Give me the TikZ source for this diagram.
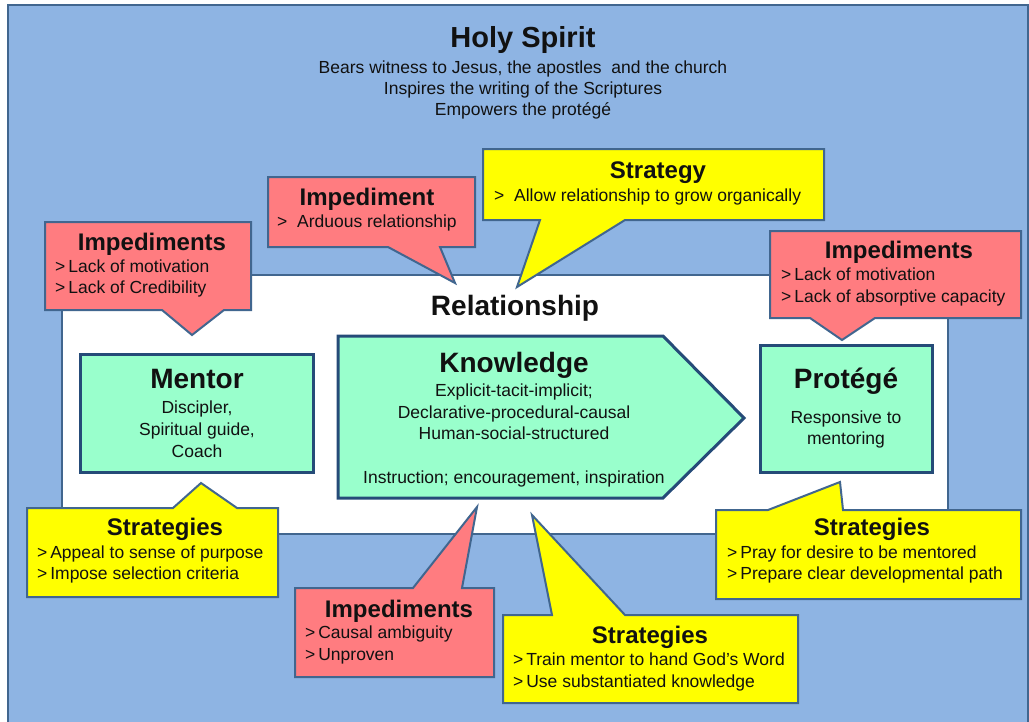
\documentclass[tikz,border=0pt]{standalone}
\usepackage{fontspec}
\setmainfont{Liberation Sans}
\definecolor{bgblue}{HTML}{8EB4E3}
\definecolor{edgec}{HTML}{41668F}
\definecolor{edged}{HTML}{254B78}
\definecolor{pinkc}{HTML}{FF7C80}
\definecolor{yellowc}{HTML}{FFFF00}
\definecolor{mintc}{HTML}{99FFCC}
\definecolor{txtc}{HTML}{111111}
\begin{document}
\begin{tikzpicture}[x=1pt,y=-1pt,
  bgbox/.style={fill=bgblue,draw=edgec,line width=2pt},
  relbox/.style={fill=white,draw=edgec,line width=1.6pt},
  callR/.style={fill=pinkc,draw=edgec,line width=2pt,line join=miter},
  callY/.style={fill=yellowc,draw=edgec,line width=2pt,line join=miter},
  mainbox/.style={fill=mintc,draw=edged,line width=3pt,line join=miter},
  bigttl/.style={font=\bfseries\fontsize{29}{32}\selectfont,anchor=base,inner sep=0pt,text=txtc},
  mttl/.style={font=\bfseries\fontsize{28}{32}\selectfont,anchor=base,inner sep=0pt,text=txtc},
  cttl/.style={font=\bfseries\fontsize{24}{28}\selectfont,anchor=base,inner sep=0pt,text=txtc},
  ltxt/.style={font=\fontsize{17.5}{20}\selectfont,anchor=base west,inner sep=0pt,text=txtc},
  ctxt/.style={font=\fontsize{17.5}{20}\selectfont,anchor=base,inner sep=0pt,text=txtc}]
\useasboundingbox (0,0) rectangle (1029,721);
\fill[white] (0,0) rectangle (1029,721);
% background
\draw[bgbox] (8,5) rectangle (1028,740);
\node[bigttl] (hs) at (523,47) {Holy Spirit};
\node[ctxt] (hs1) at (523,73) {Bears witness to Jesus, the apostles\ \ and the church};
\node[ctxt] (hs2) at (523,94) {Inspires the writing of the Scriptures};
\node[ctxt] (hs3) at (523,115) {Empowers the protégé};
% relationship area
\draw[relbox] (62,275) rectangle (948,534);
\node[mttl] (rel) at (515,315) {Relationship};
% main boxes
\draw[mainbox] (80,354) rectangle (313,472);
\node[mttl] (men) at (197,388) {Mentor};
\node[ctxt] (men1) at (197,413) {Discipler,};
\node[ctxt] (men2) at (197,435) {Spiritual guide,};
\node[ctxt] (men3) at (197,457) {Coach};
\draw[mainbox] (338,336) -- (663,336) -- (744,418) -- (663,498) -- (338,498) -- cycle;
\node[mttl] (kn) at (514,372) {Knowledge};
\node[ctxt] (kn1) at (514,396) {Explicit-tacit-implicit;};
\node[ctxt] (kn2) at (514,418) {Declarative-procedural-causal};
\node[ctxt] (kn3) at (514,439) {Human-social-structured};
\node[ctxt] (kn4) at (514,483) {Instruction; encouragement, inspiration};
\draw[mainbox] (760,345) rectangle (932,472);
\node[mttl] (pro) at (846,388) {Protégé};
\node[ctxt] (pro1) at (846,423) {Responsive to};
\node[ctxt] (pro2) at (846,444) {mentoring};
% callouts
\draw[callR] (45,222) -- (251,222) -- (251,310) -- (224,310) -- (192,335) -- (162,310) -- (45,310) -- cycle;
\node[cttl] (c1t) at (152,250) {Impediments};
\node[ltxt] (c1a) at (55,272) {>\,Lack of motivation};
\node[ltxt] (c1b) at (55,293) {>\,Lack of Credibility};

\draw[callR] (268,177) -- (475,177) -- (475,247) -- (440,247) -- (455,283) -- (388,247) -- (268,247) -- cycle;
\node[cttl] (c2t) at (367,205) {Impediment};
\node[ltxt] (c2a) at (277,227) {>\ \ Arduous relationship};

\draw[callY] (483,149) -- (824,149) -- (824,220) -- (625,220) -- (517,287) -- (540,220) -- (483,220) -- cycle;
\node[cttl] (c3t) at (658,178) {Strategy};
\node[ltxt] (c3a) at (494,201) {>\ \ Allow relationship to grow organically};

\draw[callR] (770,231) -- (1021,231) -- (1021,318) -- (875,318) -- (842,340) -- (810,318) -- (770,318) -- cycle;
\node[cttl] (c4t) at (899,258) {Impediments};
\node[ltxt] (c4a) at (781,280) {>\,Lack of motivation};
\node[ltxt] (c4b) at (781,302) {>\,Lack of absorptive capacity};

\draw[callY] (27,508) -- (173,508) -- (201,483) -- (237,508) -- (278,508) -- (278,597) -- (27,597) -- cycle;
\node[cttl] (c5t) at (165,535) {Strategies};
\node[ltxt] (c5a) at (37,558) {>\,Appeal to sense of purpose};
\node[ltxt] (c5b) at (37,579) {>\,Impose selection criteria};

\draw[callR] (295,588) -- (413,588) -- (477,507) -- (462,588) -- (494,588) -- (494,677) -- (295,677) -- cycle;
\node[cttl] (c6t) at (399,617) {Impediments};
\node[ltxt] (c6a) at (305,638) {>\,Causal ambiguity};
\node[ltxt] (c6b) at (305,660) {>\,Unproven};

\draw[callY] (503,615) -- (552,615) -- (532,515) -- (625,615) -- (798,615) -- (798,703) -- (503,703) -- cycle;
\node[cttl] (c7t) at (650,643) {Strategies};
\node[ltxt] (c7a) at (513,665) {>\,Train mentor to hand God’s Word};
\node[ltxt] (c7b) at (513,687) {>\,Use substantiated knowledge};

\draw[callY] (716,510) -- (768,510) -- (840,482) -- (843,510) -- (1021,510) -- (1021,599) -- (716,599) -- cycle;
\node[cttl] (c8t) at (872,535) {Strategies};
\node[ltxt] (c8a) at (727,558) {>\,Pray for desire to be mentored};
\node[ltxt] (c8b) at (727,579) {>\,Prepare clear developmental path};
\end{tikzpicture}
\end{document}
